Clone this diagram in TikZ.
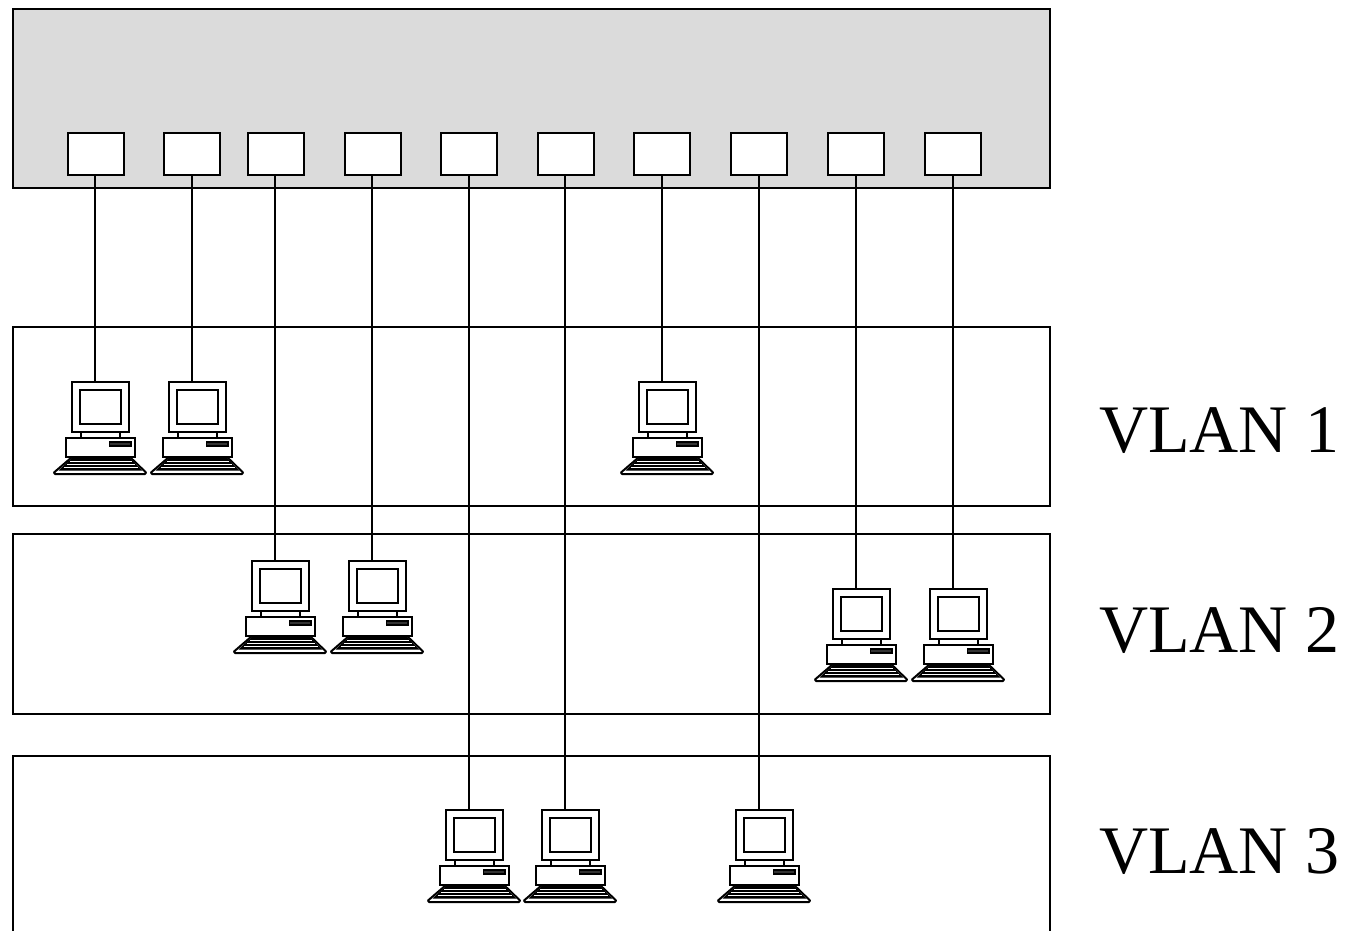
\documentclass[tikz,border=0pt]{standalone}
\usepackage{fontspec}
\setmainfont{Liberation Serif}
\tikzset{
	x=1pt, y=-1pt,
	lanbox/.style={draw, line width=2pt, minimum width=1037pt, anchor=north west, inner sep=0pt, outer sep=0pt},
	portbox/.style={draw, line width=2pt, fill=white, minimum width=56pt, minimum height=42pt, inner sep=0pt, outer sep=0pt},
	wire/.style={line width=2.6pt},
	lanlabel/.style={font=\fontsize{68}{68}\selectfont, anchor=base west, inner sep=0pt},
	pc/.pic={
		\coordinate (-top) at (0,0);
		\draw[line width=2pt, fill=white] (-23,0) rectangle (34,50);
		\draw[line width=2pt] (-15,8) rectangle (26,42);
		\draw[line width=2pt] (-14,50) -- (-14,56) (25,50) -- (25,56);
		\draw[line width=2pt, fill=white] (-29,56) rectangle (40,75);
		\draw[line width=1.5pt, fill=black!80] (14.5,60) rectangle (36,64);
		\draw[line width=2pt, fill=white, line join=round] (-23,75) -- (35,75) -- (51,90.5) -- (50,92) -- (-40,92) -- (-41,90.5) -- cycle;
		\fill (-23,76) -- (35,76) -- (47,88.5) -- (-36.5,88.5) -- cycle;
		\draw[white, line width=0.8pt] (-25,79) -- (37,79) (-28.5,82) -- (40,82) (-31.5,85) -- (43,85);
	},
}
\begin{document}
\begin{tikzpicture}
	\useasboundingbox (0,0) rectangle (1346,931);
	\clip (0,0) rectangle (1346,931);

	\node[lanbox, fill=black!14, minimum height=179pt] (switch) at (13,9) {};
	\node[lanbox, minimum height=179pt] (vlan1) at (13,327) {};
	\node[lanbox, minimum height=180pt] (vlan2) at (13,534) {};
	\node[lanbox, minimum height=190pt] (vlan3) at (13,756) {};

	\node[lanlabel] (label1) at (1099,452) {VLAN 1};
	\node[lanlabel] (label2) at (1099,652) {VLAN 2};
	\node[lanlabel] (label3) at (1099,873) {VLAN 3};

	% port number / x of port / x of wire / top of the monitor
	\foreach \n/\px/\wx/\py in {1/96/95/382, 2/192/192/382, 3/276/275/561, 4/373/372/561, 5/469/469/810, 6/566/565/810, 7/662/662/382, 8/759/759/810, 9/856/856/589, 10/953/953/589} {
		\node[portbox] (port\n) at (\px,154) {};
		\pic (host\n) at (\wx,\py) {pc};
		\draw[wire] (port\n.south -| host\n-top) -- (host\n-top);
	}
\end{tikzpicture}
\end{document}
